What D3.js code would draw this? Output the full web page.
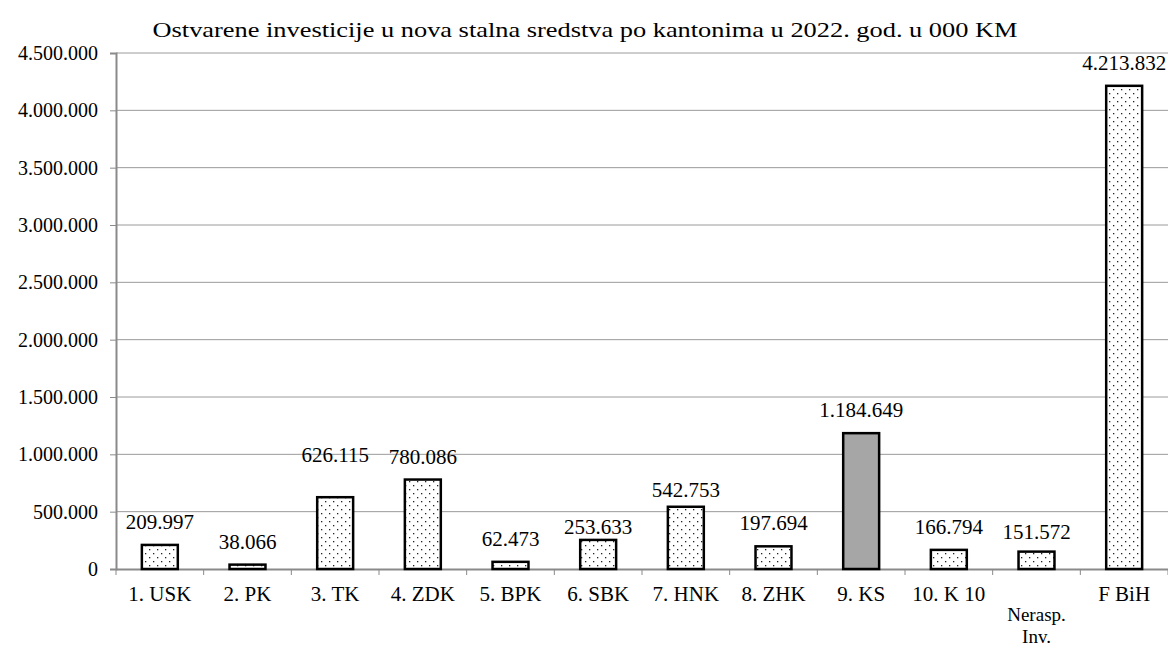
<!DOCTYPE html>
<html>
<head>
<meta charset="utf-8">
<script src="https://cdn.jsdelivr.net/npm/d3@7"></script>
<style>
  body { margin: 0; background: #fff; }
</style>
</head>
<body>
<svg id="chart" width="1168" height="648"></svg>
<script>
// chart data
const categories = ["1. USK", "2. PK", "3. TK", "4. ZDK", "5. BPK", "6. SBK", "7. HNK", "8. ZHK", "9. KS", "10. K 10", "Nerasp. Inv.", "F BiH"];
const values = [209997, 38066, 626115, 780086, 62473, 253633, 542753, 197694, 1184649, 166794, 151572, 4213832];
const valueLabels = ["209.997", "38.066", "626.115", "780.086", "62.473", "253.633", "542.753", "197.694", "1.184.649", "166.794", "151.572", "4.213.832"];
const yTicks = [0, 500000, 1000000, 1500000, 2000000, 2500000, 3000000, 3500000, 4000000, 4500000];
const yTickLabels = ["0", "500.000", "1.000.000", "1.500.000", "2.000.000", "2.500.000", "3.000.000", "3.500.000", "4.000.000", "4.500.000"];
const highlighted = "9. KS";
const title = "Ostvarene investicije u nova stalna sredstva po kantonima u 2022. god. u 000 KM";

const width = 1168;
const height = 648;
const margin = { top: 53, right: 0, bottom: 79, left: 116 };
const serif = "'Liberation Serif', 'Times New Roman', serif";

// manual label nudges (px, positive = higher), as placed in the original
const labelNudge = [0, 0, 19, 0, 0, -10, -6, 0, 0, 0, -3, 0];

const svg = d3.select("#chart");

const defs = svg.append("defs");
const pat = defs.append("pattern")
  .attr("id", "dots")
  .attr("patternUnits", "userSpaceOnUse")
  .attr("width", 8)
  .attr("height", 8);
pat.append("rect").attr("width", 8).attr("height", 8).attr("fill", "#fff");
pat.append("rect").attr("x", 1).attr("y", 1).attr("width", 1.3).attr("height", 1.3).attr("fill", "#222");
pat.append("rect").attr("x", 5).attr("y", 5).attr("width", 1.3).attr("height", 1.3).attr("fill", "#222");

const x = d3.scaleBand()
  .domain(categories)
  .range([margin.left, width - margin.right])
  .paddingInner(0.59)
  .paddingOuter(0.295);

const y = d3.scaleLinear()
  .domain([0, 4500000])
  .range([height - margin.bottom, margin.top]);

// gridlines
svg.append("g")
  .selectAll("line")
  .data(yTicks.slice(1))
  .enter()
  .append("line")
  .attr("x1", margin.left)
  .attr("x2", width - margin.right)
  .attr("y1", d => y(d))
  .attr("y2", d => y(d))
  .attr("stroke", "#9a9a9a")
  .attr("stroke-width", 1);

// y axis
const yAxis = svg.append("g")
  .attr("transform", `translate(${margin.left},0)`)
  .call(d3.axisLeft(y).tickValues(yTicks).tickSize(6).tickPadding(12)
    .tickFormat((d, i) => yTickLabels[i]));
yAxis.attr("font-family", null);
yAxis.select(".domain").attr("stroke", "#8a8a8a").attr("stroke-width", 2);
yAxis.selectAll(".tick line").attr("stroke", "#8a8a8a");
yAxis.selectAll("text").style("font-family", serif).style("font-size", "20px").attr("fill", "#000");

// x axis
const xAxis = svg.append("g")
  .attr("transform", `translate(0,${y(0)})`)
  .call(d3.axisBottom(x).tickSize(0).tickFormat(""));
xAxis.select(".domain").attr("stroke", "#8a8a8a").attr("stroke-width", 2);

// x ticks at band boundaries
const step = x.step();
svg.append("g")
  .selectAll("line")
  .data(d3.range(categories.length + 1))
  .enter()
  .append("line")
  .attr("x1", i => margin.left + i * step)
  .attr("x2", i => margin.left + i * step)
  .attr("y1", y(0))
  .attr("y2", y(0) + 6)
  .attr("stroke", "#8a8a8a");

// bars
svg.append("g")
  .selectAll("rect")
  .data(values)
  .enter()
  .append("rect")
  .attr("x", (d, i) => x(categories[i]))
  .attr("y", d => y(d))
  .attr("width", x.bandwidth())
  .attr("height", d => y(0) - y(d))
  .attr("fill", (d, i) => categories[i] === highlighted ? "#a6a6a6" : "url(#dots)")
  .attr("stroke", "#000")
  .attr("stroke-width", 2.5);

// value labels
svg.append("g")
  .selectAll("text")
  .data(values)
  .enter()
  .append("text")
  .attr("x", (d, i) => x(categories[i]) + x.bandwidth() / 2)
  .attr("y", (d, i) => y(d) - 16 - labelNudge[i])
  .attr("text-anchor", "middle")
  .style("font-family", serif)
  .style("font-size", "21px")
  .text((d, i) => valueLabels[i]);

// category labels (the long one wraps onto two lines)
const catLabels = svg.append("g");
categories.forEach((c, i) => {
  const cx = x(c) + x.bandwidth() / 2;
  if (c === "Nerasp. Inv.") {
    const t = catLabels.append("text")
      .attr("x", cx)
      .attr("y", y(0) + 52)
      .attr("text-anchor", "middle")
      .style("font-family", serif)
      .style("font-size", "19px");
    t.append("tspan").attr("x", cx).text("Nerasp.");
    t.append("tspan").attr("x", cx).attr("dy", 22).text("Inv.");
  } else {
    catLabels.append("text")
      .attr("x", cx)
      .attr("y", y(0) + 32)
      .attr("text-anchor", "middle")
      .style("font-family", serif)
      .style("font-size", "21px")
      .text(c);
  }
});

// title
svg.append("text")
  .attr("x", 585)
  .attr("y", 37)
  .attr("text-anchor", "middle")
  .attr("textLength", 865)
  .attr("lengthAdjust", "spacingAndGlyphs")
  .style("font-family", serif)
  .style("font-size", "22px")
  .text(title);
</script>
</body>
</html>
